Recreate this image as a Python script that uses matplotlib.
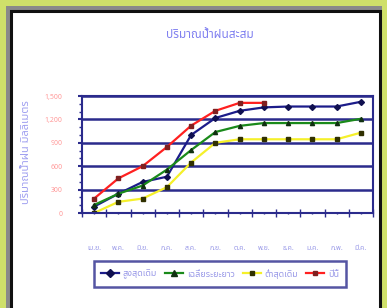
import matplotlib
matplotlib.use('Agg')
from matplotlib import pyplot as plt
from matplotlib import font_manager
from matplotlib.patches import Rectangle
import numpy as np

# data (mm, cumulative)
months = ['เม.ย.', 'พ.ค.', 'มิ.ย.', 'ก.ค.', 'ส.ค.', 'ก.ย.', 'ต.ค.', 'พ.ย.', 'ธ.ค.', 'ม.ค.', 'ก.พ.', 'มี.ค.']
max_old = [82, 247, 398, 465, 1000, 1218, 1310, 1354, 1365, 1365, 1365, 1426]
avg_long = [103, 247, 352, 556, 807, 1038, 1117, 1153, 1153, 1153, 1153, 1208]
min_old = [0, 143, 185, 331, 647, 900, 945, 945, 945, 945, 945, 1030]
this_year = [185, 444, 600, 846, 1120, 1310, 1412, 1412]
names = ['สูงสุดเดิม', 'เฉลี่ยระยะยาว', 'ต่ำสุดเดิม', 'ปีนี้']
yticks = [0, 300, 600, 900, 1200, 1500]
ytick_labels = ['0', '300', '600', '900', '1,200', '1,500']

have = {f.name for f in font_manager.fontManager.ttflist}
fams = [f for f in ['Noto Sans Thai', 'Noto Sans Thai Looped', 'Loma', 'Garuda', 'Waree',
                    'Norasi', 'Tlwg Typo', 'Sarabun', 'DejaVu Sans'] if f in have]
plt.rcParams['font.family'] = fams

navy = '#2b2b8c'
fig = plt.figure(figsize=(3.87, 3.08), dpi=100)
fig.patch.set_facecolor('#cfe06a')
# grey shadow + white chart frame
fig.patches.append(Rectangle((6/387, -0.1), 376/387, 1.1 - 6/308, transform=fig.transFigure,
                             facecolor='#8a8a8a', edgecolor='none', zorder=-2))
fig.patches.append(Rectangle((11/387, -0.1), 369/387, 1.1 - 11/308, transform=fig.transFigure,
                             facecolor='white', edgecolor='#111111', lw=2.2, zorder=-1))

ax = fig.add_axes([82/387, 1-213/308, 291/387, 117/308])
ax.patch.set_alpha(0)
x = np.arange(len(months))
ax.plot(x, max_old, color='#1c1c8a', lw=1.6, marker='D', ms=3, mfc='#101050', mec='#101050')
ax.plot(x, avg_long, color='#1a8a1a', lw=1.6, marker='^', ms=3, mfc='#103010', mec='#103010')
ax.plot(x, min_old, color='#f5f02a', lw=1.6, marker='s', ms=2.5, mfc='#303000', mec='#303000')
ax.plot(np.arange(len(this_year)), this_year, color='#ff2020', lw=1.6, marker='s', ms=2.5,
        mfc='#802020', mec='#802020')

ax.set_xlim(-0.5, 11.5)
ax.set_ylim(0, 1500)
ax.set_yticks(yticks)
ax.set_yticklabels(ytick_labels, color='#ff9a9a', fontsize=5)
ax.set_yticks(np.arange(0, 1500, 100), minor=True)
ax.set_xticks(x)
ax.set_xticklabels(months, color='#9a9ae8', fontsize=5)
ax.set_xticks(np.arange(-0.5, 12, 1), minor=True)
ax.tick_params(axis='x', which='major', pad=22, length=2, color=navy, width=1, direction='inout')
ax.tick_params(axis='x', which='minor', length=6, color=navy, width=1, direction='inout')
ax.tick_params(axis='y', which='major', length=3, color=navy, width=1.5, pad=11)
ax.tick_params(axis='y', which='minor', length=2, color=navy, width=1)
ax.grid(axis='y', which='major', color=navy, lw=1.8)
ax.set_axisbelow(True)
for s in ax.spines.values():
    s.set_color(navy)
    s.set_linewidth(1.5)

fig.text(210/387, 1-34/308, 'ปริมาณน้ำฝนสะสม', color='#8080f0', fontsize=8.5, ha='center', va='center')
fig.text(27/387, 1-152/308, 'ปริมาณน้ำฝน มิลลิเมตร', color='#a0a0f0', fontsize=8,
         rotation=90, ha='center', va='center')

leg = fig.legend([ax.lines[i] for i in range(4)], names, loc='center',
                 bbox_to_anchor=(220/387, 1-274/308), ncol=4, fontsize=6.5,
                 frameon=True, fancybox=False, handlelength=2, columnspacing=0.9,
                 handletextpad=0.4, borderpad=0.8, markerscale=1.3)
leg.get_frame().set_edgecolor(navy)
leg.get_frame().set_linewidth(1.8)
for t in leg.get_texts():
    t.set_color('#9a9ae8')

fig.savefig('out.png', dpi=100, facecolor=fig.get_facecolor())
